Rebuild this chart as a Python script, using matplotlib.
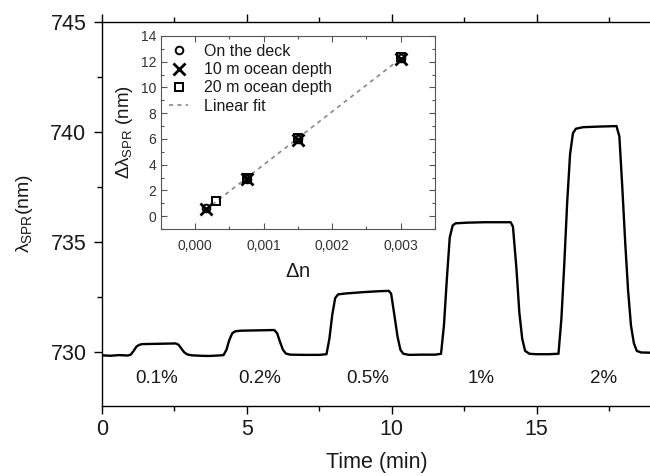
import matplotlib
matplotlib.use("Agg")
import matplotlib.pyplot as plt
import numpy as np
from matplotlib.ticker import MultipleLocator, FuncFormatter

plt.rcParams['font.family'] = ['Liberation Sans', 'DejaVu Sans']
plt.rcParams['mathtext.fontset'] = 'custom'
plt.rcParams['mathtext.rm'] = 'Liberation Sans'
plt.rcParams['mathtext.it'] = 'Liberation Sans'

# SPR resonance wavelength vs time, salt concentration steps
time_min = [0.0, 0.3, 0.6, 0.9, 1.0, 1.1, 1.2, 1.3, 1.4, 1.8, 2.2, 2.55, 2.65, 2.75,
            2.85, 2.95, 3.1, 3.4, 3.7, 4.0, 4.2, 4.3, 4.4, 4.5, 4.6, 4.8, 5.2, 5.6,
            5.95, 6.05, 6.15, 6.25, 6.35, 6.5, 7.0, 7.5, 7.75, 7.85, 7.95, 8.05, 8.15,
            8.4, 9.0, 9.5, 9.9, 9.98, 10.1, 10.2, 10.3, 10.4, 10.6, 11.0, 11.5, 11.7,
            11.8, 11.9, 12.0, 12.1, 12.2, 12.6, 13.2, 13.8, 14.1, 14.18, 14.3, 14.4,
            14.5, 14.6, 14.75, 15.0, 15.4, 15.75, 15.85, 15.95, 16.05, 16.15, 16.25,
            16.35, 16.6, 17.2, 17.75, 17.85, 17.95, 18.05, 18.15, 18.25, 18.35, 18.45,
            18.6, 18.9]
lambda_spr = [729.85, 729.83, 729.86, 729.84, 729.88, 730.05, 730.25, 730.33, 730.36,
              730.37, 730.38, 730.39, 730.33, 730.15, 729.98, 729.89, 729.85, 729.83,
              729.82, 729.84, 729.86, 730.10, 730.55, 730.85, 730.94, 730.97, 730.98,
              730.99, 731.00, 730.85, 730.45, 730.10, 729.93, 729.88, 729.87, 729.87,
              729.90, 730.60, 731.70, 732.45, 732.62, 732.66, 732.72, 732.76, 732.78,
              732.65, 731.60, 730.70, 730.10, 729.92, 729.87, 729.88, 729.88, 729.92,
              731.20, 733.30, 735.20, 735.75, 735.85, 735.88, 735.90, 735.90, 735.90,
              735.70, 733.80, 731.80, 730.60, 730.05, 729.92, 729.90, 729.90, 729.92,
              731.50, 734.00, 736.80, 739.00, 739.95, 740.15, 740.22, 740.25, 740.27,
              739.80, 737.50, 735.00, 732.80, 731.20, 730.40, 730.05, 729.98, 729.97]

step_labels = ['0.1%', '0.2%', '0.5%', '1%', '2%']
step_label_t = [1.9, 5.45, 9.17, 13.07, 17.3]

# inset: shift vs refractive index change
deck_dn = [0.00015, 0.00075, 0.0015, 0.003]
deck_shift = [0.6, 2.9, 6.0, 12.3]
depth10_dn = [0.00015, 0.00075, 0.0015, 0.003]
depth10_shift = [0.55, 2.85, 5.95, 12.25]
depth20_dn = [0.0003, 0.00075, 0.0015, 0.003]
depth20_shift = [1.2, 2.95, 6.05, 12.35]

txt = '#1a1a1a'

fig = plt.figure(figsize=(6.5, 4.76), dpi=100)
ax = fig.add_axes([0.1565, 0.1477, 0.8477, 0.806])
ax.plot(time_min, lambda_spr, color='black', lw=1.7)
ax.set_xlim(0, 19)
ax.set_ylim(727.56, 745)
ax.xaxis.set_major_locator(MultipleLocator(5))
ax.xaxis.set_minor_locator(MultipleLocator(2.5))
ax.yaxis.set_major_locator(MultipleLocator(5))
ax.yaxis.set_minor_locator(MultipleLocator(2.5))
ax.tick_params(which='both', direction='out', top=True, right=False,
               labelsize=15.5, labelcolor=txt, width=1.0)
ax.tick_params(which='major', length=6)
ax.tick_params(which='minor', length=3.5)
ax.tick_params(axis='y', pad=5)
ax.spines['right'].set_visible(False)
for s in ['left', 'bottom', 'top']:
    ax.spines[s].set_linewidth(1.0)
ax.set_xlabel('Time (min)', fontsize=15.5, color=txt, labelpad=9)
ax.set_ylabel(r'$\lambda_{\mathrm{SPR}}$(nm)', fontsize=14, color=txt, labelpad=11)

for lab, t in zip(step_labels, step_label_t):
    ax.text(t, 728.8, lab, ha='center', va='center', fontsize=13.5, color=txt)

# inset
ins = fig.add_axes([0.2477, 0.5189, 0.4215, 0.4055])
ins.plot(deck_dn, deck_shift, 'o', ms=5.5, mfc='none', mec='black', mew=1.4,
         label='On the deck')
ins.plot(depth10_dn, depth10_shift, 'x', ms=8, color='black', mew=2.0,
         label='10 m ocean depth')
ins.plot(depth20_dn, depth20_shift, 's', ms=5.5, mfc='none', mec='black', mew=1.4,
         label='20 m ocean depth')
all_dn = np.array(deck_dn + depth10_dn + depth20_dn)
all_shift = np.array(deck_shift + depth10_shift + depth20_shift)
slope, icpt = np.polyfit(all_dn, all_shift, 1)
fit_x = np.array([min(all_dn), max(all_dn)])
ins.plot(fit_x, slope * fit_x + icpt, ls=(0, (2.5, 2.5)), color='#888888', lw=1.2,
         label='Linear fit', zorder=0)
ins.set_xlim(-0.0005, 0.0035)
ins.set_ylim(-1, 14)
ins.xaxis.set_major_locator(MultipleLocator(0.001))
ins.xaxis.set_minor_locator(MultipleLocator(0.0005))
ins.yaxis.set_major_locator(MultipleLocator(2))
ins.yaxis.set_minor_locator(MultipleLocator(1))
ins.xaxis.set_major_formatter(FuncFormatter(lambda v, p: f'{v:.3f}'.replace('.', ',')))
ins.tick_params(which='both', direction='in', top=True, right=True,
                labelsize=10, labelcolor='#333333', color='#555555', width=0.8)
ins.tick_params(which='major', length=4)
ins.tick_params(which='minor', length=2)
ins.tick_params(axis='x', pad=7)
for s in ins.spines.values():
    s.set_color('#555555')
    s.set_linewidth(0.8)
ins.set_xlabel(r'$\Delta$n', fontsize=14.5, color=txt, labelpad=7)
ins.set_ylabel(r'$\Delta\lambda_{\mathrm{SPR}}$ (nm)', fontsize=13.5, color=txt, labelpad=4)
ins.legend(loc='upper left', frameon=False, fontsize=11.5, handlelength=1.2,
           handletextpad=1.0, borderaxespad=0.2, labelspacing=0.2,
           borderpad=0.3, labelcolor=txt)

fig.savefig('out.png', dpi=100)
